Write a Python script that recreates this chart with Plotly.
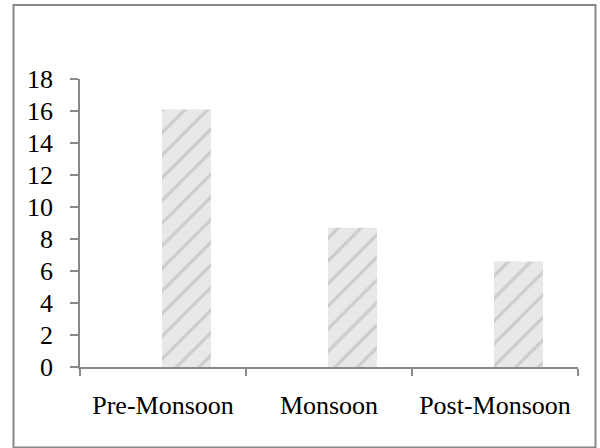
import plotly.graph_objects as go

categories = ["Pre-Monsoon", "Monsoon", "Post-Monsoon"]
values = [16.1, 8.7, 6.6]
y_ticks = [0, 2, 4, 6, 8, 10, 12, 14, 16, 18]

W, H = 600, 448
ml, mr, mt, mb = 80, 22, 79, 81
pw, ph = W - ml - mr, H - mt - mb

fig = go.Figure()
fig.add_trace(go.Bar(
    x=categories, y=values,
    width=0.295, offset=-0.006,
    marker=dict(
        color="#e6e6e6",
        line=dict(width=0),
        pattern=dict(shape="/", fgcolor="#cccccc", bgcolor="#e8e8e8",
                     size=16, solidity=0.2, fillmode="replace"),
    ),
    showlegend=False,
))

axis_col = "#898989"
fig.update_layout(
    width=W, height=H,
    margin=dict(l=ml, r=mr, t=mt, b=mb, pad=0),
    paper_bgcolor="white", plot_bgcolor="white",
    font=dict(family="Liberation Serif", size=26, color="black"),
    xaxis=dict(
        showline=True, linecolor=axis_col, linewidth=1.5,
        ticks="outside", tickson="boundaries", ticklen=7, tickcolor=axis_col, tickwidth=1.5,
        showgrid=False, zeroline=False, ticklabelstandoff=14,
    ),
    yaxis=dict(
        range=[0, 18], tickvals=y_ticks, ticktext=[str(v) for v in y_ticks],
        showline=True, linecolor=axis_col, linewidth=1.5,
        ticks="outside", ticklen=8, tickcolor=axis_col, tickwidth=1.5,
        showgrid=False, zeroline=False, ticklabelstandoff=12,
    ),
    shapes=[dict(
        type="rect", xref="paper", yref="paper",
        x0=(13.5 - ml) / pw, x1=(595.5 - ml) / pw,
        y0=(H - mb - 447.5) / ph, y1=(H - mb - 5) / ph,
        line=dict(color="#878787", width=2), fillcolor="rgba(0,0,0,0)", layer="below",
    )],
)

fig.write_html("out.html")
